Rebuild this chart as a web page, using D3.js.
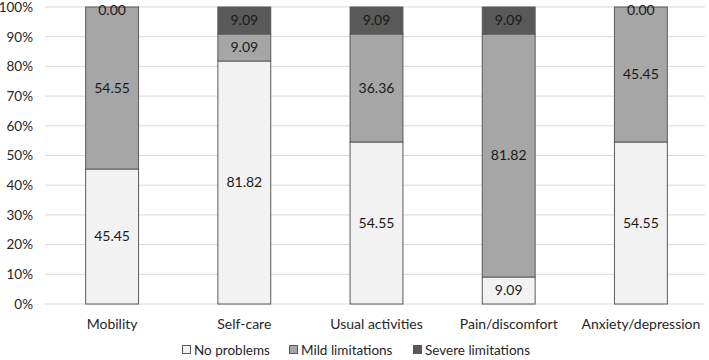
<!DOCTYPE html>
<html><head><meta charset="utf-8">
<script src="https://cdn.jsdelivr.net/npm/d3@7"></script>
<style>body{margin:0;background:#fff}svg{display:block}text{font-family:Lato,"Open Sans",sans-serif}</style>
</head><body><svg id="c" width="709" height="360"></svg>
<script>
const categories = ["Mobility","Self-care","Usual activities","Pain/discomfort","Anxiety/depression"];
const noProblems = [45.45, 81.82, 54.55, 9.09, 54.55];
const mildLimitations = [54.55, 9.09, 36.36, 81.82, 45.45];
const severeLimitations = [0.00, 9.09, 9.09, 9.09, 0.00];
const seriesNames = ["No problems","Mild limitations","Severe limitations"];
const colors = ["#f2f2f2","#a6a6a6","#595959"];
const yTicks = [0,10,20,30,40,50,60,70,80,90,100];

const svg = d3.select("#c");
const x = d3.scaleBand().domain(categories).range([46,707]).paddingInner(0.6).paddingOuter(0.3);
const y = d3.scaleLinear().domain([0,100]).range([304,7]);

svg.append("g").selectAll("line").data(yTicks).join("line")
  .attr("x1",45).attr("x2",705).attr("y1",d=>y(d)).attr("y2",d=>y(d))
  .attr("stroke","#d9d9d9").attr("stroke-width",1);

const yAxis = d3.axisLeft(y).tickValues(yTicks).tickFormat(d=>d+"%").tickSize(0).tickPadding(0);
const ya = svg.append("g").attr("transform","translate(33,0)").call(yAxis);
ya.select(".domain").remove();
ya.selectAll("text").attr("font-size",13.5).attr("fill","#262626").attr("font-family","Lato,sans-serif");

const series = [noProblems, mildLimitations, severeLimitations];
const stacked = categories.map((c,i)=>{
  let acc=0;
  return series.map((s,k)=>{const y0=acc; acc+=s[i]; return {cat:c,k,y0,y1:acc,v:s[i]};});
});
const flat = stacked.flat();

svg.append("g").selectAll("rect").data(flat).join("rect")
  .attr("x",d=>x(d.cat)).attr("width",x.bandwidth())
  .attr("y",d=>y(d.y1)).attr("height",d=>y(d.y0)-y(d.y1))
  .attr("fill",d=>colors[d.k]).attr("stroke","#595959").attr("stroke-width",1);

svg.append("g").selectAll("text").data(flat).join("text")
  .attr("x",d=>x(d.cat)+x.bandwidth()/2)
  .attr("y",d=>Math.max(10,(y(d.y0)+y(d.y1))/2))
  .attr("dy","0.35em").attr("text-anchor","middle")
  .attr("font-size",14).attr("fill","#1a1a1a")
  .text(d=>d.v.toFixed(2));

const xa = svg.append("g").attr("transform","translate(0,304)").call(d3.axisBottom(x).tickSize(0).tickPadding(15));
xa.select(".domain").remove();
xa.selectAll("text").attr("font-size",14).attr("fill","#262626").attr("font-family","Lato,sans-serif");

const legendX = [182,289,413];
const lg = svg.append("g");
seriesNames.forEach((n,i)=>{
  lg.append("rect").attr("x",legendX[i]+0.5).attr("y",345.5).attr("width",8).attr("height",8)
    .attr("fill",colors[i]).attr("stroke","#595959").attr("stroke-width",1);
  lg.append("text").attr("x",legendX[i]+12).attr("y",350).attr("dy","0.35em")
    .attr("font-size",13.5).attr("fill","#262626").text(n);
});
</script></body></html>
